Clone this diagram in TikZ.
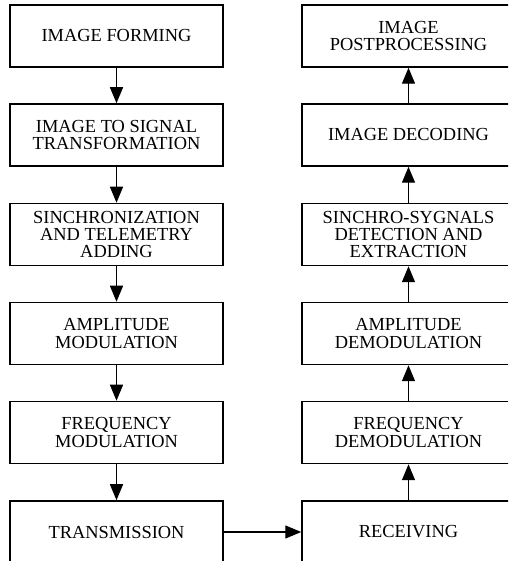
\documentclass[tikz,border=0pt]{standalone}
\usepackage{fontspec}
\setmainfont{Liberation Serif}
\usetikzlibrary{arrows.meta}
\tikzset{
  stage/.style={draw, line width=1.5pt, minimum width=213pt, minimum height=62pt,
    inner sep=0pt, align=center, font=\fontsize{18.4}{17.2}\selectfont},
  flow/.style={line width=1.4pt, -{Triangle[length=16pt,width=13pt]}}
}
\begin{document}
\begin{tikzpicture}[x=1pt,y=1pt]
  \useasboundingbox (0,0) rectangle (508,561);
  \clip (0,0) rectangle (508,561);
  % transmitting chain (left column)
  \node[stage] (tx1) at (116.5,525)   {IMAGE FORMING};
  \node[stage] (tx2) at (116.5,426)   {IMAGE TO SIGNAL\\TRANSFORMATION};
  \node[stage] (tx3) at (116.5,326.5) {SINCHRONIZATION\\AND TELEMETRY\\ADDING};
  \node[stage] (tx4) at (116.5,227.5) {AMPLITUDE\\MODULATION};
  \node[stage] (tx5) at (116.5,128.5) {FREQUENCY\\MODULATION};
  \node[stage] (tx6) at (116.5,29)    {TRANSMISSION};
  % receiving chain (right column)
  \node[stage] (rx1) at (408.5,525)   {IMAGE\\POSTPROCESSING};
  \node[stage] (rx2) at (408.5,426)   {IMAGE DECODING};
  \node[stage] (rx3) at (408.5,326.5) {SINCHRO-SYGNALS\\DETECTION AND\\EXTRACTION};
  \node[stage] (rx4) at (408.5,227.5) {AMPLITUDE\\DEMODULATION};
  \node[stage] (rx5) at (408.5,128.5) {FREQUENCY\\DEMODULATION};
  \node[stage] (rx6) at (408.5,29)    {RECEIVING};
  % connectors
  \draw[flow] (tx1) -- (tx2);
  \draw[flow] (tx2) -- (tx3);
  \draw[flow] (tx3) -- (tx4);
  \draw[flow] (tx4) -- (tx5);
  \draw[flow] (tx5) -- (tx6);
  \draw[flow] (tx6) -- (rx6);
  \draw[flow] (rx6) -- (rx5);
  \draw[flow] (rx5) -- (rx4);
  \draw[flow] (rx4) -- (rx3);
  \draw[flow] (rx3) -- (rx2);
  \draw[flow] (rx2) -- (rx1);
\end{tikzpicture}
\end{document}
